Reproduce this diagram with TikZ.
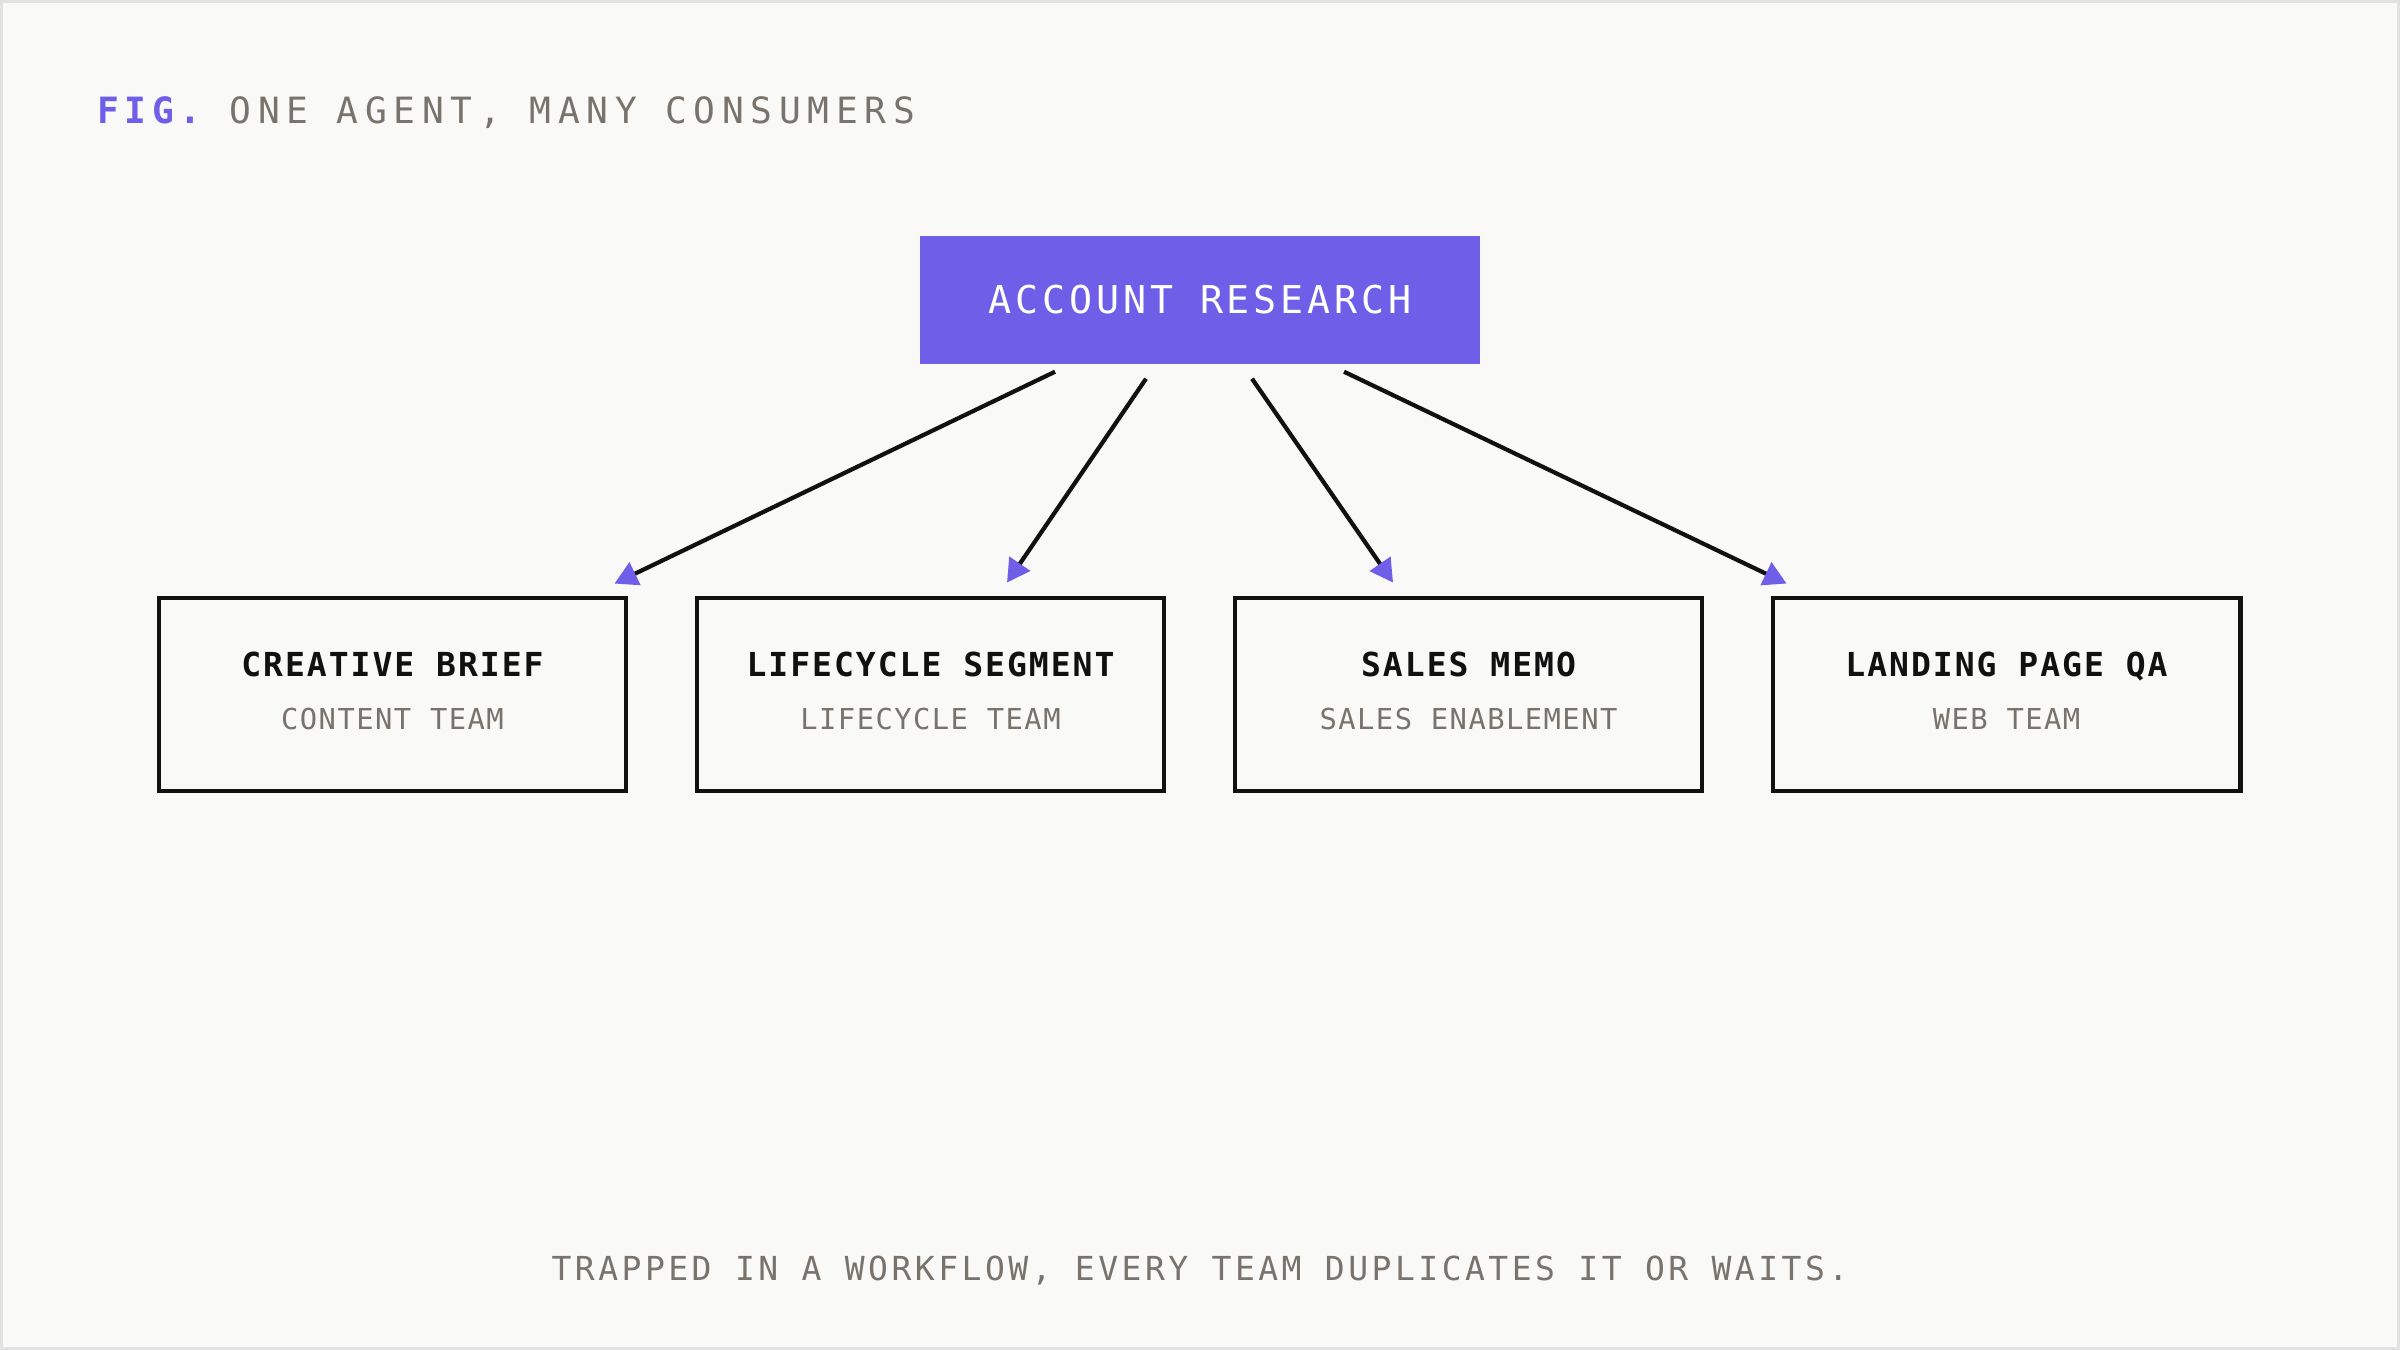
\documentclass[tikz,border=0pt]{standalone}
\usepackage{fontspec}
\usetikzlibrary{arrows.meta,positioning,calc}
\newfontfamily\figfont[LetterSpace=15]{DejaVu Sans Mono}
\newfontfamily\headfont[LetterSpace=18.5]{DejaVu Sans Mono}
\newfontfamily\agentfont[LetterSpace=10]{DejaVu Sans Mono}
\newfontfamily\cardfont[LetterSpace=6]{DejaVu Sans Mono}
\newfontfamily\teamfont[LetterSpace=5]{DejaVu Sans Mono}
\newfontfamily\notefont[LetterSpace=10.5]{DejaVu Sans Mono}
\definecolor{paper}{HTML}{F9F9F7}
\definecolor{frame}{HTML}{E2E2E0}
\definecolor{accent}{HTML}{6E5EE8}
\definecolor{muted}{HTML}{79736D}
\definecolor{ink}{HTML}{111111}
\tikzset{
  agent/.style={fill=accent,text=white,minimum width=5.6cm,minimum height=1.28cm,
    font=\agentfont\fontsize{10.9}{13}\selectfont},
  card/.style={draw=ink,line width=1.4pt,minimum width=4.67cm,minimum height=1.93cm},
  cardtitle/.style={anchor=base,text=ink,font=\cardfont\bfseries\fontsize{9.4}{11}\selectfont},
  cardteam/.style={anchor=base,text=muted,font=\teamfont\fontsize{8.2}{10}\selectfont},
  flow/.style={draw=ink,line width=1.2pt,-{Triangle[length=6.5pt,width=7pt,color=accent]}}
}
\begin{document}
\begin{tikzpicture}
\useasboundingbox (0,0) rectangle (24,-13.5);
\fill[paper] (0,0) rectangle (24,-13.5);
\draw[frame,line width=0.9pt] (0.015,-0.015) rectangle (23.985,-13.485);
% title
\node[anchor=base west,inner sep=0pt,text=muted,font=\headfont\fontsize{10.3}{12}\selectfont] (title) at (0.97,-1.23)
  {\textcolor{accent}{\figfont\bfseries FIG.} ONE AGENT, MANY CONSUMERS};
% agent
\node[agent] (research) at (12,-3.00) {ACCOUNT RESEARCH};
% consumers
\node[card] (creative) at (3.925,-6.945) {};
\node[card] (lifecycle) at (9.305,-6.945) {};
\node[card] (sales) at (14.685,-6.945) {};
\node[card] (landing) at (20.065,-6.945) {};
\node[cardtitle] (creative-t) at ([yshift=0.185cm]creative.center) {CREATIVE BRIEF};
\node[cardteam] (creative-s) at ([yshift=-0.345cm]creative.center) {CONTENT TEAM};
\node[cardtitle] (lifecycle-t) at ([yshift=0.185cm]lifecycle.center) {LIFECYCLE SEGMENT};
\node[cardteam] (lifecycle-s) at ([yshift=-0.345cm]lifecycle.center) {LIFECYCLE TEAM};
\node[cardtitle] (sales-t) at ([yshift=0.185cm]sales.center) {SALES MEMO};
\node[cardteam] (sales-s) at ([yshift=-0.345cm]sales.center) {SALES ENABLEMENT};
\node[cardtitle] (landing-t) at ([yshift=0.185cm]landing.center) {LANDING PAGE QA};
\node[cardteam] (landing-s) at ([yshift=-0.345cm]landing.center) {WEB TEAM};
% fan out
\draw[flow] ([xshift=-1.45cm,yshift=-0.07cm]research.south) -- ([xshift=-0.14cm,yshift=0.12cm]creative.north east);
\draw[flow] ([xshift=-0.54cm,yshift=-0.14cm]research.south) -- ([xshift=0.765cm,yshift=0.13cm]lifecycle.north);
\draw[flow] ([xshift=0.52cm,yshift=-0.14cm]research.south) -- ([xshift=-0.755cm,yshift=0.13cm]sales.north);
\draw[flow] ([xshift=1.44cm,yshift=-0.07cm]research.south) -- ([xshift=0.16cm,yshift=0.12cm]landing.north west);
% footnote
\node[anchor=base,inner sep=0pt,text=muted,font=\notefont\fontsize{9.4}{11}\selectfont] (footnote) at (12,-12.80)
  {TRAPPED IN A WORKFLOW, EVERY TEAM DUPLICATES IT OR WAITS.};
\end{tikzpicture}
\end{document}
